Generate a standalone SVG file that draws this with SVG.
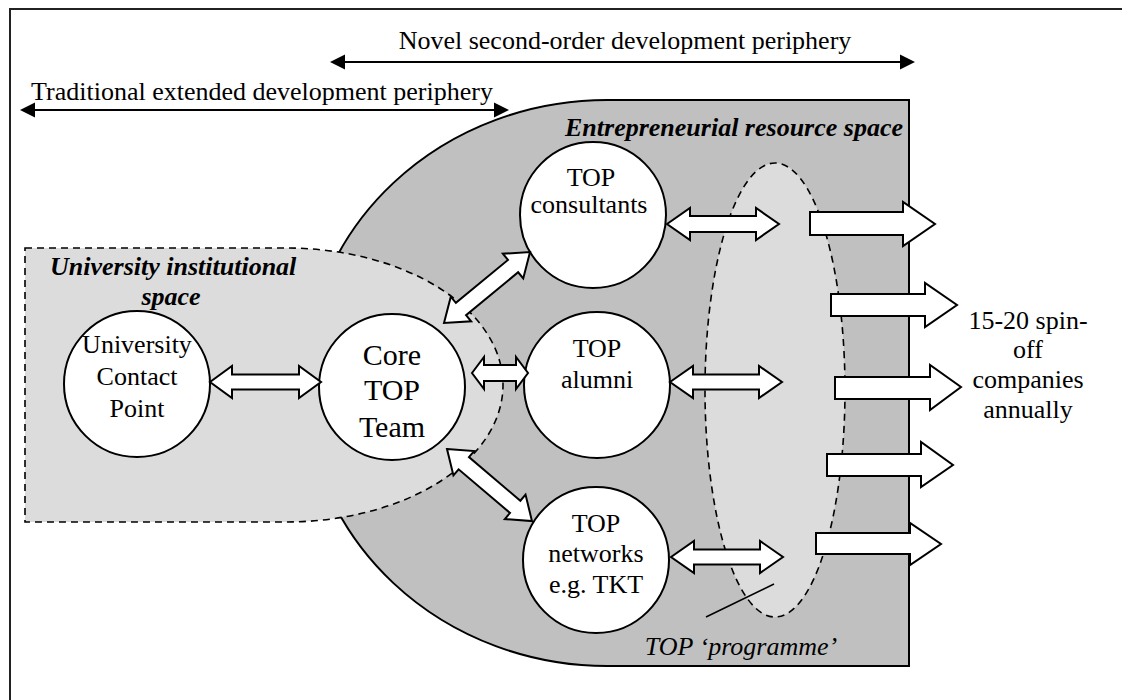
<svg xmlns="http://www.w3.org/2000/svg" width="1122" height="700" viewBox="0 0 1122 700">
<defs>
<style>
text{font-family:"Liberation Serif","Times New Roman",serif;fill:#000;}
.t26{font-size:26px;text-anchor:middle;}
.t30{font-size:30px;text-anchor:middle;}
.bi{font-size:26px;font-weight:bold;font-style:italic;}
.node{fill:#fff;stroke:#000;stroke-width:2;}
.dash{stroke:#000;stroke-width:1.6;stroke-dasharray:7 5;}
.blk{fill:#fff;stroke:#000;stroke-width:2;stroke-linejoin:miter;}
.span{stroke:#000;stroke-width:2;fill:none;}
</style>
<marker id="tri" markerUnits="userSpaceOnUse" markerWidth="16" markerHeight="16" viewBox="0 0 16 16" refX="11" refY="8" orient="auto-start-reverse">
<path d="M0,0.5 L15,8 L0,15.5 z" fill="#000"/>
</marker>
</defs>
<rect width="1122" height="700" fill="#fff"/>
<rect id="frame" x="10" y="9" width="1130" height="720" fill="none" stroke="#222" stroke-width="2"/>

<g id="entrepreneurial-space">
<path d="M607,100 L909,100 L909,666 L607,666 A302,283 0 0 1 607,100 Z" fill="#c0c0c0" stroke="#000" stroke-width="2"/>
<text class="bi" x="903" y="136" text-anchor="end">Entrepreneurial resource space</text>
</g>

<g id="university-space">
<path class="dash" d="M25,248 L286,248 A217,137 0 0 1 286,522 L25,522 Z" fill="#dcdcdc"/>
<text class="bi" x="50" y="275">University institutional</text>
<text class="bi" x="171" y="305" text-anchor="middle">space</text>
</g>

<g id="top-programme">
<ellipse class="dash" cx="775" cy="390" rx="70" ry="227" fill="#dcdcdc"/>
<line x1="706" y1="617" x2="774" y2="584" stroke="#000" stroke-width="1.6"/>
<text x="741" y="655" font-size="26" font-style="italic" text-anchor="middle">TOP ‘programme’</text>
</g>

<g id="spans">
<line class="span" x1="334" y1="62" x2="911" y2="62" marker-start="url(#tri)" marker-end="url(#tri)"/>
<text class="t26" x="625" y="49">Novel second-order development periphery</text>
<line class="span" x1="24" y1="110" x2="505" y2="110" marker-start="url(#tri)" marker-end="url(#tri)"/>
<text class="t26" x="262" y="100">Traditional extended development periphery</text>
</g>

<g id="node-ucp">
<circle class="node" cx="137" cy="384" r="73"/>
<text class="t26" x="137" y="353">University</text>
<text class="t26" x="137" y="385">Contact</text>
<text class="t26" x="137" y="417">Point</text>
</g>

<g id="node-core">
<circle class="node" cx="392" cy="387" r="73"/>
<text class="t30" x="392" y="365">Core</text>
<text class="t30" x="392" y="400">TOP</text>
<text class="t30" x="392" y="437">Team</text>
</g>

<g id="node-consultants">
<circle class="node" cx="593" cy="215" r="73"/>
<text class="t26" x="591" y="186">TOP</text>
<text class="t26" x="589" y="213">consultants</text>
</g>

<g id="node-alumni">
<circle class="node" cx="597" cy="385" r="73"/>
<text class="t26" x="597" y="357">TOP</text>
<text class="t26" x="597" y="388">alumni</text>
</g>

<g id="node-networks">
<circle class="node" cx="596" cy="560" r="73"/>
<text class="t26" x="596" y="532">TOP</text>
<text class="t26" x="596" y="562">networks</text>
<text class="t26" x="596" y="593">e.g. TKT</text>
</g>

<g id="connectors">
<!-- UCP <-> Core -->
<polygon class="blk" points="210,382 232,366 232,374.5 299,374.5 299,366 321,382 299,398 299,389.5 232,389.5 232,398"/>
<!-- Core <-> alumni -->
<polygon class="blk" points="472,373 484,357 484,365 516,365 516,357 528,373 516,389 516,381 484,381 484,389"/>
<!-- Core <-> consultants -->
<polygon class="blk" transform="translate(444,323) rotate(-39.5)" points="0,0 22,-16 22,-8 89.5,-8 89.5,-16 111.5,0 89.5,16 89.5,8 22,8 22,16"/>
<!-- Core <-> networks -->
<polygon class="blk" transform="translate(447,449) rotate(40.3)" points="0,0 22,-16 22,-8 89.4,-8 89.4,-16 111.4,0 89.4,16 89.4,8 22,8 22,16"/>
<!-- consultants <-> programme -->
<polygon class="blk" points="667,224 690,208 690,216 756,216 756,208 779,224 756,240 756,232 690,232 690,240"/>
<!-- alumni <-> programme -->
<polygon class="blk" points="670,382 693,366 693,374.5 759,374.5 759,366 782,382 759,398 759,389.5 693,389.5 693,398"/>
<!-- networks <-> programme -->
<polygon class="blk" points="671,557 694,541 694,549.5 760,549.5 760,541 783,557 760,573 760,564.5 694,564.5 694,573"/>
<!-- output arrows -->
<polygon class="blk" points="810,212 903,212 903,202 935,224 903,246 903,235 810,235"/>
<polygon class="blk" points="831,294 925,294 925,283 957,305 925,327 925,316 831,316"/>
<polygon class="blk" points="835,377 930,377 930,365 961,387 930,410 930,399 835,399"/>
<polygon class="blk" points="827,454 921,454 921,442 953,465 921,487 921,476 827,476"/>
<polygon class="blk" points="816,533 910,533 910,523 941,544 910,565 910,554 816,554"/>
</g>

<g id="outcome">
<text class="t26" x="1028" y="329">15-20 spin-</text>
<text class="t26" x="1028" y="358">off</text>
<text class="t26" x="1028" y="388">companies</text>
<text class="t26" x="1028" y="418">annually</text>
</g>
</svg>
